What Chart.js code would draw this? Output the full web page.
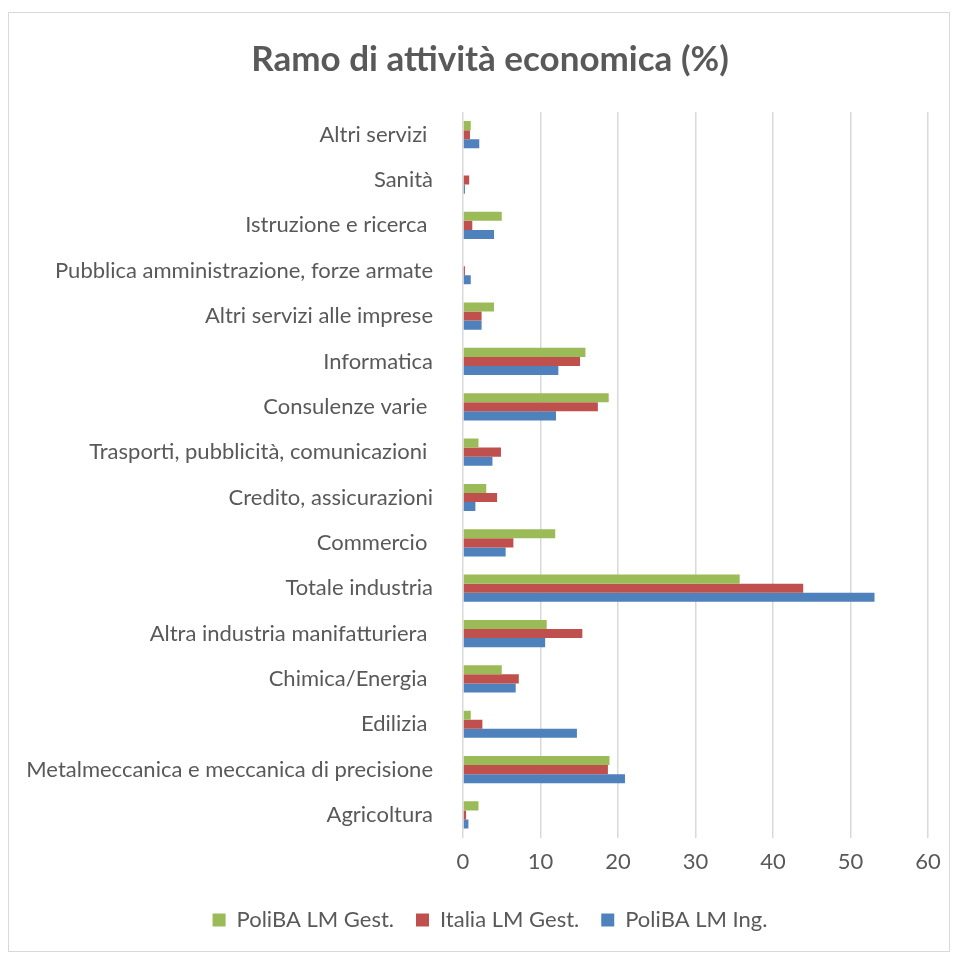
<!DOCTYPE html>
<html>
<head>
<meta charset="utf-8">
<script src="https://cdn.jsdelivr.net/npm/chart.js@4/dist/chart.umd.min.js"></script>
<style>
  body { margin: 0; background: #fff; }
  #box {
    position: absolute; left: 8px; top: 12px;
    width: 942px; height: 940px;
    border: 1px solid #d9d9d9; box-sizing: border-box;
  }
</style>
</head>
<body>
<div id="box"><canvas id="ramoChart"></canvas></div>
<script>
var categories = [
  'Altri servizi ',
  'Sanità',
  'Istruzione e ricerca ',
  'Pubblica amministrazione, forze armate',
  'Altri servizi alle imprese',
  'Informatica',
  'Consulenze varie ',
  'Trasporti, pubblicità, comunicazioni ',
  'Credito, assicurazioni',
  'Commercio ',
  'Totale industria',
  'Altra industria manifatturiera ',
  'Chimica/Energia ',
  'Edilizia ',
  'Metalmeccanica e meccanica di precisione',
  'Agricoltura'
];

var polibaGest = [1.0, 0, 5.0, 0, 4.0, 15.8, 18.8, 2.0, 3.0, 11.9, 35.7, 10.8, 5.0, 1.0, 18.9, 2.0];
var italiaGest = [0.9, 0.8, 1.2, 0.25, 2.4, 15.1, 17.4, 4.9, 4.4, 6.5, 43.9, 15.4, 7.2, 2.5, 18.7, 0.4];
var polibaIng  = [2.1, 0.25, 4.0, 1.0, 2.4, 12.3, 12.0, 3.8, 1.6, 5.5, 53.1, 10.6, 6.8, 14.7, 20.9, 0.7];

var xTicks = [0, 10, 20, 30, 40, 50, 60];

var textColor = '#595959';
var gridColor = '#d9d9d9';

Chart.defaults.font.family = 'Lato, "Open Sans", sans-serif';
Chart.defaults.color = textColor;

var ctx = document.getElementById('ramoChart');

new Chart(ctx, {
  type: 'bar',
  data: {
    labels: categories,
    datasets: [
      { label: 'PoliBA LM Gest.', data: polibaGest, backgroundColor: '#9bbb59' },
      { label: 'Italia LM Gest.', data: italiaGest, backgroundColor: '#c0504d' },
      { label: 'PoliBA LM Ing.',  data: polibaIng,  backgroundColor: '#4f81bd' }
    ]
  },
  options: {
    indexAxis: 'y',
    responsive: true,
    maintainAspectRatio: false,
    animation: false,
    categoryPercentage: 0.6,
    barPercentage: 1.0,
    layout: { padding: { left: 32, right: 10, top: 8, bottom: 10 } },
    plugins: {
      title: {
        display: true,
        text: 'Ramo di attività economica (%)',
        color: textColor,
        font: { size: 35, weight: 'bold' },
        padding: { top: 18, bottom: 31 }
      },
      legend: {
        position: 'bottom',
        labels: {
          boxWidth: 13,
          boxHeight: 13,
          padding: 22,
          color: textColor,
          font: { size: 22 }
        }
      },
      tooltip: { enabled: false }
    },
    scales: {
      x: {
        min: 0,
        max: 60,
        afterBuildTicks: function(axis) {
          axis.ticks = xTicks.map(function(v) { return { value: v }; });
        },
        afterFit: function(axis) {
          axis.paddingRight = 21;
        },
        grid: { color: gridColor, lineWidth: 1.5, drawTicks: false },
        border: { display: false },
        ticks: { color: textColor, font: { size: 22, lineHeight: 0.88 }, padding: 15 }
      },
      y: {
        afterFit: function(axis) {
          axis.width = 422;
          // long category names run past the axis box; don't clip them
          axis._computeLabelArea = function() { return undefined; };
        },
        grid: { display: false },
        border: { display: false },
        ticks: { color: textColor, font: { size: 22 }, padding: 22, autoSkip: false }
      }
    }
  }
});
</script>
</body>
</html>
